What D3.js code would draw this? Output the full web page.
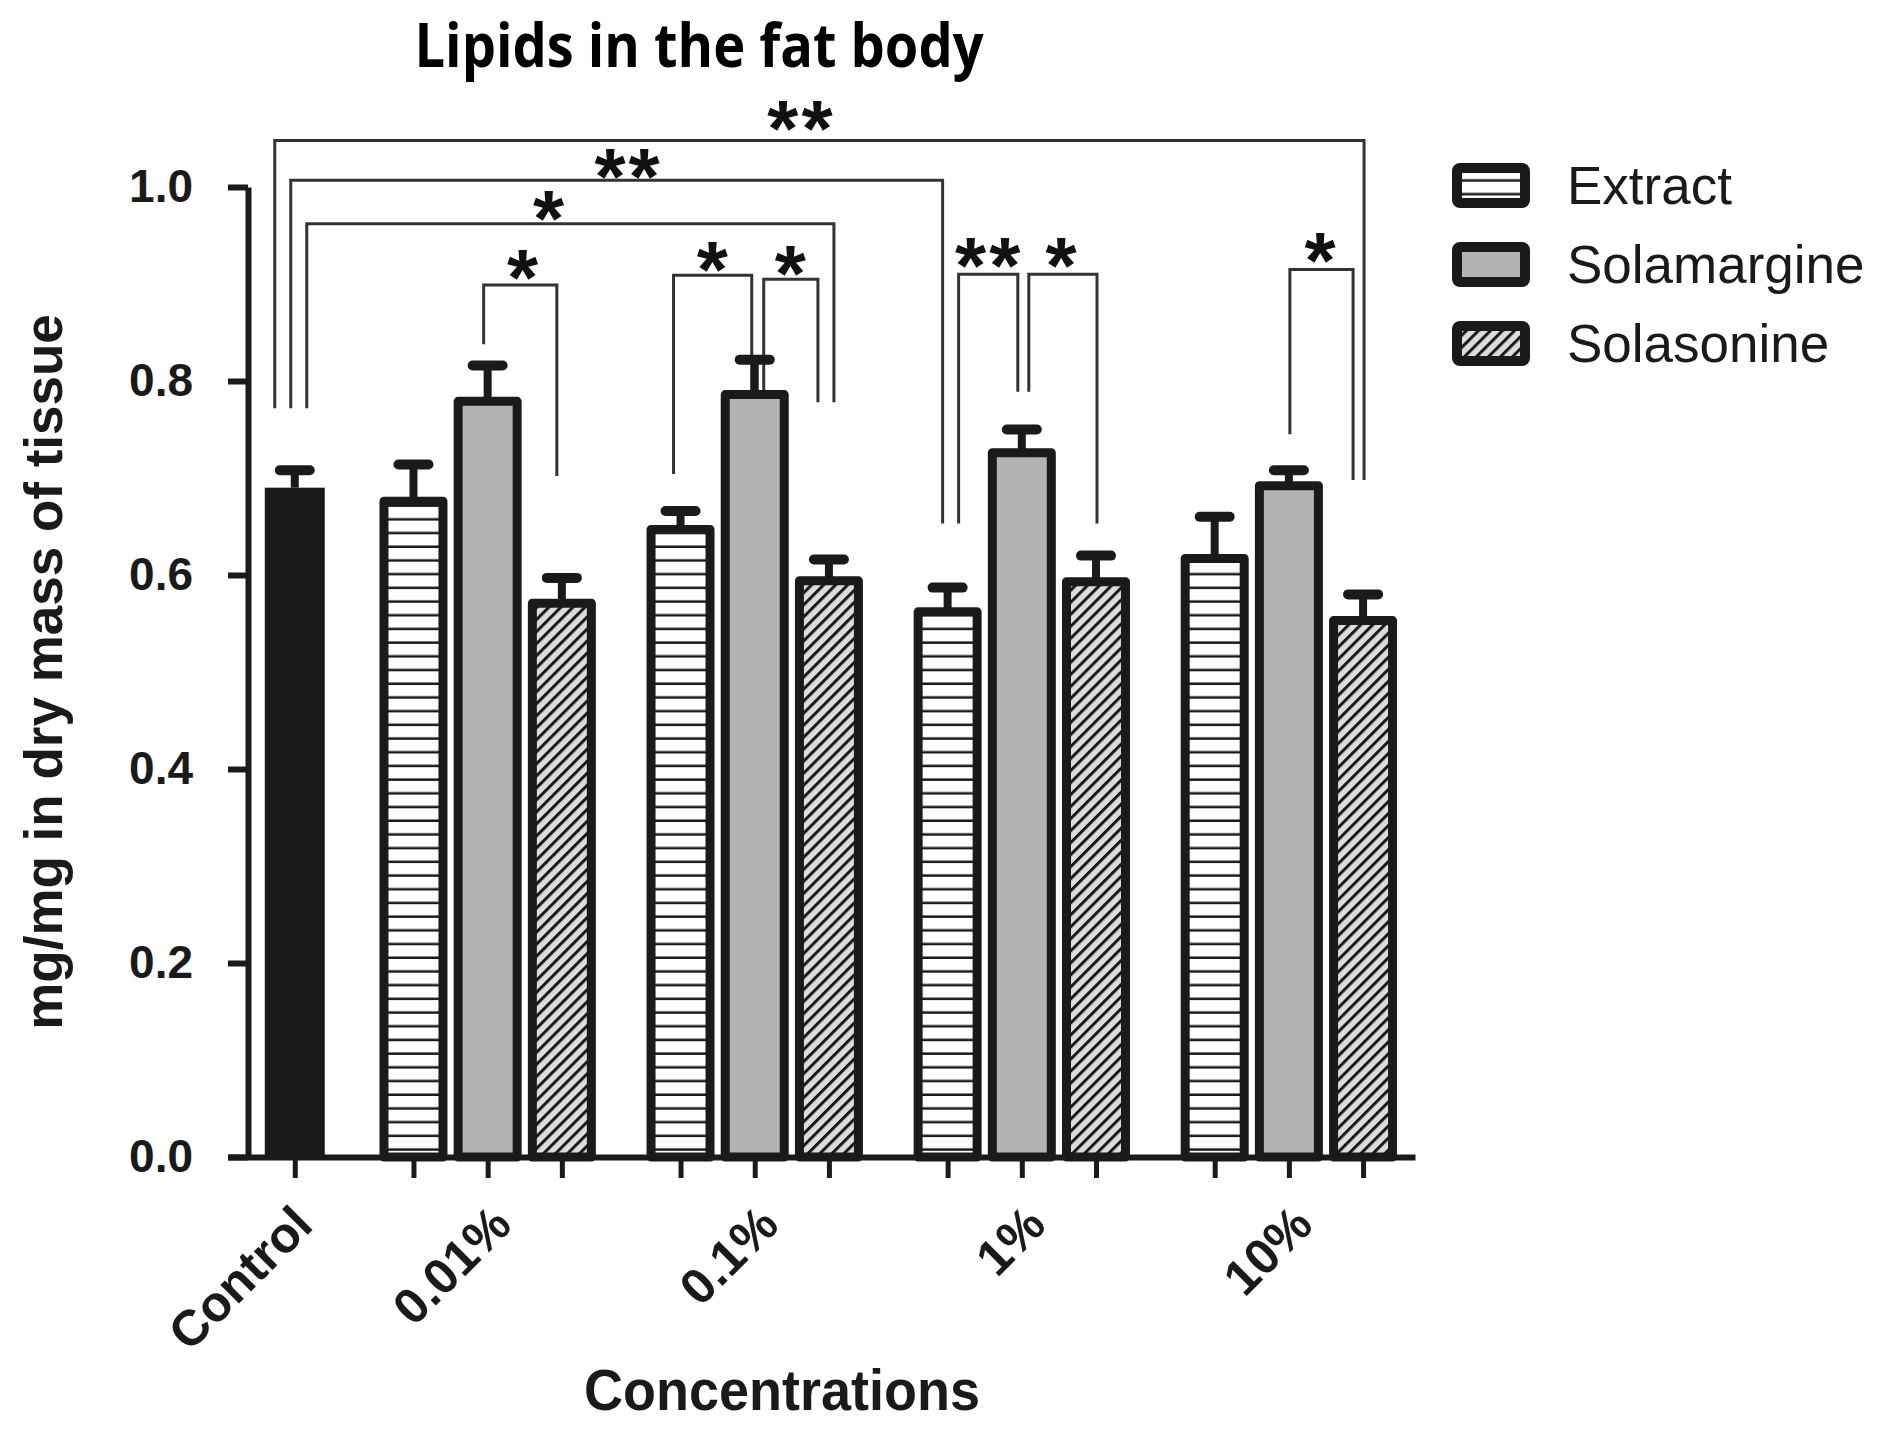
<!DOCTYPE html>
<html>
<head>
<meta charset="utf-8">
<script src="https://cdn.jsdelivr.net/npm/d3@7"></script>
<style>
  body { margin: 0; background: #fff; }
  svg { display: block; }
</style>
</head>
<body>
<svg id="chart" width="1880" height="1430"></svg>
<script>
// data
var categories = ["Control", "0.01%", "0.1%", "1%", "10%"];
var series = ["Extract", "Solamargine", "Solasonine"];
var controlMean = 0.690, controlErr = 0.018;
var extractMean = [0.676, 0.647, 0.562, 0.617];
var extractErr = [0.038, 0.019, 0.025, 0.043];
var solamargineMean = [0.779, 0.786, 0.726, 0.692];
var solamargineErr = [0.037, 0.036, 0.024, 0.016];
var solasonineMean = [0.571, 0.594, 0.593, 0.553];
var solasonineErr = [0.026, 0.022, 0.027, 0.027];
var yTicks = [0, 0.2, 0.4, 0.6, 0.8, 1.0];

// significance brackets: from/to = [group, series], level/ends in y units
var brackets = [
  {from: [0, 0], to: [4, 2], level: 1.048, endFrom: 0.772, endTo: 0.698, label: "**"},
  {from: [0, 0], to: [3, 0], level: 1.007, endFrom: 0.772, endTo: 0.653, label: "**"},
  {from: [0, 0], to: [2, 2], level: 0.962, endFrom: 0.772, endTo: 0.778, label: "*"},
  {from: [1, 1], to: [1, 2], level: 0.899, endFrom: 0.838, endTo: 0.702, label: "*"},
  {from: [2, 0], to: [2, 1], level: 0.909, endFrom: 0.704, endTo: 0.785, label: "*"},
  {from: [2, 1], to: [2, 2], level: 0.905, endFrom: 0.785, endTo: 0.778, label: "*"},
  {from: [3, 0], to: [3, 1], level: 0.910, endFrom: 0.653, endTo: 0.789, label: "**"},
  {from: [3, 1], to: [3, 2], level: 0.910, endFrom: 0.789, endTo: 0.653, label: "*"},
  {from: [4, 1], to: [4, 2], level: 0.915, endFrom: 0.745, endTo: 0.698, label: "*"}
];
// leg offsets (px), label positions (x units) and label lift (px) for the brackets above
var bracketLayout = [
  {dFrom: -20, dTo: 1, lx: 6.83, lift: 30},
  {dFrom: -4, dTo: -5, lx: 4.50, lift: 22},
  {dFrom: 12, dTo: 5, lx: 3.44, lift: 24},
  {dFrom: -4, dTo: -5, lx: 3.09, lift: 26},
  {dFrom: -7, dTo: -3, lx: 5.65, lift: 24},
  {dFrom: 9, dTo: -11, lx: 6.70, lift: 24},
  {dFrom: 11, dTo: -4, lx: 9.36, lift: 27},
  {dFrom: 7, dTo: 1, lx: 10.35, lift: 27},
  {dFrom: 1, dTo: -10, lx: 13.84, lift: 27}
];

var means = [extractMean, solamargineMean, solasonineMean];
var errs = [extractErr, solamargineErr, solasonineErr];

// position of a bar in x units (control = 0, groups spaced with a gap)
function pos(g, s) {
  if (g === 0) return 0;
  return 1 + 3 * (g - 1) + s + 0.6 * g;
}

var bars = [{g: 0, s: -1, v: controlMean, e: controlErr}];
for (var g = 1; g <= 4; g++) {
  for (var s = 0; s < 3; s++) {
    bars.push({g: g, s: s, v: means[s][g - 1], e: errs[s][g - 1]});
  }
}

var svg = d3.select("#chart");
var x = d3.scaleLinear().domain([-0.9, 15.1]).range([228, 1415]);
var y = d3.scaleLinear().domain([0, 1]).range([1157, 187]);
var barW = 59;
var ink = "#1a1a1a";
var sans = "Liberation Sans, Arial, sans-serif";
var starSize = 80;

// patterns
var defs = svg.append("defs");
var stripe = defs.append("pattern").attr("id", "stripes")
  .attr("patternUnits", "userSpaceOnUse").attr("width", 20).attr("height", 13.7);
stripe.append("rect").attr("width", 20).attr("height", 13.7).attr("fill", "#fff");
stripe.append("rect").attr("y", 11.2).attr("width", 20).attr("height", 2.5).attr("fill", ink);

var hatch = defs.append("pattern").attr("id", "hatch")
  .attr("patternUnits", "userSpaceOnUse").attr("width", 8.5).attr("height", 8.5)
  .attr("patternTransform", "rotate(45)");
hatch.append("rect").attr("width", 8.5).attr("height", 8.5).attr("fill", "#dcdcdc");
hatch.append("rect").attr("width", 3).attr("height", 8.5).attr("fill", ink);

var fills = ["url(#stripes)", "#b3b3b3", "url(#hatch)"];

// brackets
var br = svg.append("g").attr("class", "brackets");
brackets.forEach(function(b, i) {
  var L = bracketLayout[i];
  var x1 = x(pos(b.from[0], b.from[1])) + L.dFrom;
  var x2 = x(pos(b.to[0], b.to[1])) + L.dTo;
  br.append("path")
    .attr("d", "M" + x1 + "," + y(b.endFrom) + "V" + y(b.level) + "H" + x2 + "V" + y(b.endTo))
    .attr("fill", "none").attr("stroke", "#333").attr("stroke-width", 3);
  br.append("text")
    .attr("x", x(L.lx)).attr("y", y(b.level) - L.lift + 0.575 * starSize)
    .attr("text-anchor", "middle")
    .style("font-family", sans)
    .style("font-weight", "bold").style("font-size", starSize + "px")
    .style("letter-spacing", "3px")
    .attr("fill", "#111")
    .text(b.label);
});

// error bars
var eb = svg.append("g").attr("class", "errorbars");
eb.selectAll("line.stem").data(bars).join("line").attr("class", "stem")
  .attr("x1", d => x(pos(d.g, d.s))).attr("x2", d => x(pos(d.g, d.s)))
  .attr("y1", d => y(d.v)).attr("y2", d => y(d.v + d.e))
  .attr("stroke", ink).attr("stroke-width", 8);
eb.selectAll("line.cap").data(bars).join("line").attr("class", "cap")
  .attr("x1", d => x(pos(d.g, d.s)) - 15).attr("x2", d => x(pos(d.g, d.s)) + 15)
  .attr("y1", d => y(d.v + d.e)).attr("y2", d => y(d.v + d.e))
  .attr("stroke", ink).attr("stroke-width", 10).attr("stroke-linecap", "round");

// bars
svg.append("g").attr("class", "bars").selectAll("rect").data(bars).join("rect")
  .attr("x", d => x(pos(d.g, d.s)) - (d.g === 0 ? 30 : barW / 2))
  .attr("width", d => d.g === 0 ? 60 : barW)
  .attr("y", d => y(d.v))
  .attr("height", d => y(0) - y(d.v))
  .attr("fill", d => d.g === 0 ? ink : fills[d.s])
  .attr("stroke", ink)
  .attr("stroke-width", d => d.g === 0 ? 0 : 9)
  .attr("stroke-linejoin", "round");

// axes
var yAxis = svg.append("g").attr("transform", "translate(248,0)")
  .call(d3.axisLeft(y).tickValues(yTicks).tickFormat(d3.format(".1f")).tickSize(20).tickSizeOuter(0).tickPadding(35));
yAxis.select(".domain").attr("stroke", ink).attr("stroke-width", 6).attr("stroke-linejoin", "miter");
yAxis.selectAll(".tick line").attr("stroke", ink).attr("stroke-width", 6);
yAxis.selectAll(".tick text")
  .style("font-family", sans)
  .style("font-weight", "bold").style("font-size", "46px").attr("fill", ink);

var xTickVals = bars.map(d => pos(d.g, d.s));
var xAxis = svg.append("g").attr("transform", "translate(0,1157)")
  .call(d3.axisBottom(x).tickValues(xTickVals).tickFormat("").tickSize(21).tickSizeOuter(0));
xAxis.select(".domain").attr("stroke", ink).attr("stroke-width", 6);
xAxis.selectAll(".tick line").attr("stroke", ink).attr("stroke-width", 5);

// category labels
svg.append("g").selectAll("text").data(categories).join("text")
  .attr("transform", (d, i) => "translate(" + (x(i === 0 ? pos(0, 0) : pos(i, 1)) + (i === 0 ? 8 : 14)) + ",1215) rotate(-45)")
  .attr("text-anchor", "end").attr("dy", "0.35em")
  .style("font-family", sans)
  .style("font-weight", "bold").style("font-size", "50px").attr("fill", ink)
  .text(d => d);

// axis titles
svg.append("text")
  .attr("transform", "translate(62,672) rotate(-90)")
  .attr("text-anchor", "middle")
  .style("font-family", sans)
  .style("font-weight", "bold").style("font-size", "53px").attr("fill", ink)
  .text("mg/mg in dry mass of tissue");

svg.append("text")
  .attr("x", 782).attr("y", 1410)
  .attr("text-anchor", "middle")
  .attr("textLength", 396).attr("lengthAdjust", "spacingAndGlyphs")
  .style("font-family", sans)
  .style("font-weight", "bold").style("font-size", "58px").attr("fill", ink)
  .text("Concentrations");

svg.append("text")
  .attr("x", 699).attr("y", 67)
  .attr("text-anchor", "middle")
  .attr("textLength", 569).attr("lengthAdjust", "spacingAndGlyphs")
  .style("font-family", "Open Sans, sans-serif")
  .style("font-weight", "bold").style("font-size", "60px").attr("fill", "#000")
  .text("Lipids in the fat body");

// legend
var legend = svg.append("g").attr("class", "legend").selectAll("g").data(series).join("g")
  .attr("transform", (d, i) => "translate(1457," + (168 + i * 79) + ")");
legend.append("rect")
  .attr("width", 68).attr("height", 35).attr("rx", 3)
  .attr("fill", (d, i) => fills[i]).attr("stroke", ink).attr("stroke-width", 10);
legend.append("text")
  .attr("x", 110).attr("y", 17.5).attr("dy", "0.35em")
  .style("font-family", sans)
  .style("font-size", "53px").attr("fill", ink)
  .text(d => d);
</script>
</body>
</html>
